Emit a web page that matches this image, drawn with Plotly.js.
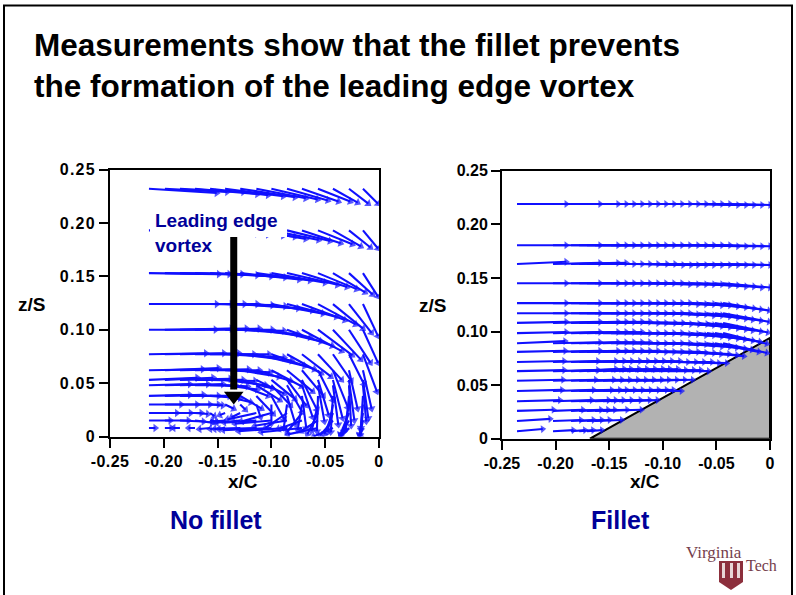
<!DOCTYPE html>
<html><head><meta charset="utf-8">
<script src="https://cdn.plot.ly/plotly-3.0.1.min.js"></script>
<style>
html,body{margin:0;padding:0;background:#fff;overflow:hidden}
.ytick text{letter-spacing:1.2px}
.xtick text{letter-spacing:.4px}
</style></head><body><div id="plot" style="width:796px;height:595px"></div>
<script>
// ---- tick labels
const xTickVals=[-0.25,-0.2,-0.15,-0.1,-0.05,0];
const xTickText=['-0.25','-0.20','-0.15','-0.10','-0.05','0'];
const zTickVals=[0,0.05,0.1,0.15,0.2,0.25];
const zTickText=['0','0.05','0.10','0.15','0.20','0.25'];

// ---- No fillet: vector tails, components in thousandths of x/C and z/S
const leftTailX=[-0.2138,-0.199,-0.185,-0.171,-0.157,-0.143,-0.129,-0.114,-0.100,-0.0855,-0.0716,-0.0567,-0.0428,-0.0279,-0.0149];
const leftZ=[0.232,0.193,0.153,0.124,0.1,0.077,0.062,0.053,0.048,0.038,0.030,0.022,0.015,0.008];
const leftU=[
[63,58,59,58,54,54,51,46,43,38,34,30,23,18,14],
[63,58,59,58,54,54,51,46,44,40,36,32,26,20,14],
[65,60,58,58,57,56,55,50,50,47,42,36,30,22,14],
[63,62,60,58,58,56,54,52,48,46,40,35,28,21,14],
[62,62,62,60,58,55,54,50,46,42,37,32,26,20,14],
[53,55,55,55,55,55,48,45,40,32,27,22,17,14,13],
[50,50,50,50,46,42,36,32,28,24,20,14,14,8,8],
[45,45,47,45,42,38,30,26,22,18,14,10,9,5,5],
[38,40,40,38,35,30,26,22,18,14,10,6,5,2,3],
[38,36,36,32,28,24,20,16,12,8,4,-1,-2,-3,-2],
[30,30,28,22,12,8,5,4,0,-3,-4,-6,-5,-5,-2],
[26,24,20,12,4,-5,-8,-27,-28,-20,-14,-10,-8,-8,-3],
[20,22,22,16,6,-12,-22,-30,-34,-30,-22,-16,-12,-8,-3],
[6,6,-6,-6,-10,-14,-24,-35,-45,-45,-38,-28,-18,-8,-3]];
const leftV=[
[-4,-3,-3,-5,-6,-7,-8,-9,-10,-11,-12,-12,-13,-14,-14],
[-1,-1,-2,-3,-4,-5,-6,-8,-9,-10,-12,-13,-15,-16,-17],
[-1,-1,-1,-2,-3,-4,-6,-7,-9,-11,-13,-15,-18,-20,-22],
[0,0,0,0,-1,-2,-4,-6,-9,-12,-15,-19,-23,-27,-30],
[0,1,1,1,0,-1,-4,-7,-11,-15,-20,-24,-28,-31,-31],
[1,1,1,0,0,-3,-6,-11,-14,-18,-21,-24,-25,-28,-35],
[1,2,1,1,0,-2,-6,-10,-15,-20,-24,-28,-35,-36,-36],
[2,2,1,0,-1,-5,-8,-13,-18,-24,-28,-33,-36,-38,-36],
[1,1,1,0,-1,-4,-10,-14,-19,-25,-30,-34,-37,-38,-34],
[1,1,0,0,-2,-6,-12,-17,-22,-27,-30,-33,-34,-32,-30],
[0,0,0,0,-1,-4,-5,-12,-18,-22,-24,-25,-26,-26,-24],
[0,0,0,-1,-3,-2,-4,-6,-8,-14,-18,-20,-20,-20,-20],
[0,0,-1,-2,-1,-1,-2,-2,-3,-5,-8,-10,-14,-14,-14],
[0,0,0,0,-1,-1,-1,-1,-2,-3,-4,-6,-8,-8,-8]];

// ---- Fillet: vector tails, components in thousandths of x/C and z/S
const rightTailX=[-0.236,-0.2024,-0.1856,-0.178,-0.1707,-0.1632,-0.1558,-0.1483,-0.1409,-0.1334,-0.1259,-0.1185,-0.111,-0.1035,-0.0961,-0.0886,-0.0812,-0.0737,-0.0662,-0.0588,-0.0513,-0.0438];
const rightZ=[0.219,0.1805,0.163,0.145,0.1265,0.117,0.108,0.0985,0.089,0.081,0.0715,0.063,0.054,0.0445,0.035,0.026,0.0165,0.007];
const rightU=[
[46,44,44,44,44,44,44,44,44,44,44,44,44,44,44,44,44,44,44,44,44,44],
[46,44,44,44,44,44,44,44,44,44,44,44,44,44,44,44,44,44,44,44,44,44],
[46,44,44,44,44,44,44,44,45,45,45,45,44,44,44,44,44,44,44,44,44,44],
[46,44,44,44,44,44,44,44,44,44,44,44,44,44,44,44,44,44,44,44,44,44],
[46,44,44,44,44,44,44,44,44,44,44,44,44,44,44,44,44,44,44,44,43,43],
[46,44,44,44,44,44,44,44,44,44,44,44,44,44,44,44,44,44,44,43,43,43],
[46,44,44,44,44,44,44,44,44,45,45,45,45,45,44,44,44,44,44,43,43,42],
[46,44,44,44,44,44,44,44,44,44,44,44,44,44,44,44,44,44,43,43,42,41],
[45,44,44,44,44,44,44,44,44,44,44,44,44,44,44,44,44,43,43,42,41,41],
[45,44,44,44,44,44,44,44,44,44,44,44,44,44,44,43,43,43,42],
[44,42,42,42,42,42,42,42,42,42,42,42,42,42,42,41,41],
[44,42,42,42,41,41,41,41,41,40,40,40,40,39,39],
[43,40,40,40,40,40,40,40,40,39,39,39,39],
[42,38,38,38,37,37,37,37,37,37,36,36],
[40,36,35,34,34,34,35,36,36],
[34,28,28,27,26,30,36],
[31,26,21,21,21,25],
[24,19,13,13,14]];
const rightV=[
[0,0,0,0,0,0,0,0,0,0,0,0,0,0,0,0,0,-1,-1,-1,-1,-1],
[0,0,0,0,0,0,0,0,0,0,0,0,0,0,0,0,0,-1,-1,-1,-1,-1],
[2,1,1,1,0,0,0,0,0,0,-1,-1,-1,-1,-1,-1,-1,-1,-1,-1,-1,-1],
[0,0,0,0,0,0,0,0,0,0,0,-1,-1,-1,-1,-1,-2,-2,-3,-3,-4,-4],
[0,0,0,0,0,0,0,0,0,0,0,0,-1,-1,-1,-2,-2,-3,-4,-5,-6,-7],
[0,0,0,0,0,0,0,0,0,0,0,0,-1,-1,-2,-2,-3,-4,-5,-6,-7,-8],
[1,1,1,1,1,1,1,0,0,0,0,-1,-1,-1,-2,-3,-4,-5,-6,-7,-8,-9],
[1,1,1,1,1,1,0,0,0,0,0,-1,-1,-2,-2,-3,-4,-5,-6,-7,-8,-10],
[2,1,1,1,1,1,1,0,0,0,0,0,-1,-1,-2,-3,-3,-4,-5,-6,-8,-9],
[1,1,1,1,1,1,1,1,0,0,0,0,0,-1,-1,-2,-2,-3,-4],
[1,1,1,1,1,1,1,1,1,1,1,0,0,0,0,-1,-1],
[1,1,2,2,2,2,2,2,2,2,2,1,1,1,0],
[1,1,1,1,1,1,1,1,1,1,1,1,1],
[1,1,1,1,1,1,1,1,1,1,1,0],
[1,1,1,1,1,1,1,1,1],
[1,1,1,1,1,1,1],
[2,1,1,1,1,1],
[2,1,1,1,1]];

// ---- Fillet outline and leading-edge arrow
const filletX=[-0.168,0,0,-0.168];
const filletZ=[0,0.094,0,0];
const wallX=[0.0015,0.0015];
const wallZ=[0,0.094];
const vortexArrowX=[-0.135,-0.135];
const vortexArrowZ=[0.188,0.044];
const vortexTipX=[-0.135];
const vortexTipZ=[0.038];

const BLUE='#1010ff', NAVY='#000099', W=796, H=595;
const px=v=>v/W, py=v=>1-v/H;
const FONT={family:'"Liberation Sans", Arial, sans-serif',weight:700,color:'#000'};

function vectors(tails,zs,us,vs,xa,ya,headSize){
  const x=[],y=[],s=[];
  zs.forEach((z,r)=>{
    us[r].forEach((u,c)=>{
      x.push(tails[c],tails[c]+u/1000,null);
      y.push(z,z+vs[r][c]/1000,null);
      s.push(0,headSize,0);
    });
  });
  return {type:'scatter',mode:'lines+markers',x,y,xaxis:xa,yaxis:ya,
    line:{color:BLUE,width:2.1},
    marker:{color:BLUE,size:s,symbol:'triangle-up',angleref:'previous',line:{width:0}},
    hoverinfo:'skip',showlegend:false,connectgaps:false};
}

const data=[
 {type:'scatter',mode:'lines',x:filletX,y:filletZ,xaxis:'x2',yaxis:'y2',fill:'toself',fillcolor:'#b2b2b2',line:{color:'#000',width:2},hoverinfo:'skip',showlegend:false},
 {type:'scatter',mode:'lines',x:wallX,y:wallZ,xaxis:'x2',yaxis:'y2',cliponaxis:false,line:{color:'#000',width:4},hoverinfo:'skip',showlegend:false},
 vectors(rightTailX,rightZ,rightU,rightV,'x2','y2',7),
 vectors(leftTailX,leftZ,leftU,leftV,'x','y',7.5),
 {type:'scatter',mode:'lines',x:vortexArrowX,y:vortexArrowZ,xaxis:'x',yaxis:'y',line:{color:'#000',width:7},hoverinfo:'skip',showlegend:false},
 {type:'scatter',mode:'markers',x:vortexTipX,y:vortexTipZ,xaxis:'x',yaxis:'y',marker:{color:'#000',size:17,symbol:'triangle-down'},hoverinfo:'skip',showlegend:false}
];

function axis(o){return Object.assign({showgrid:false,zeroline:false,showline:true,mirror:true,linecolor:'#000',linewidth:2,
  ticks:'outside',ticklen:9,tickwidth:2,tickcolor:'#000',tickfont:Object.assign({size:16},FONT),tickmode:'array',fixedrange:true},o);}

const ann=(text,x,y,size,color,extra)=>Object.assign({text,xref:'paper',yref:'paper',x:px(x),y:py(y),showarrow:false,
  xanchor:'center',yanchor:'middle',font:Object.assign({},FONT,{size,color})},extra||{});

const layout={
 width:W,height:H,margin:{l:0,r:0,t:0,b:0},paper_bgcolor:'#fff',plot_bgcolor:'#fff',showlegend:false,hovermode:false,
 title:{text:'Measurements show that the fillet prevents<br>the formation of the leading edge vortex',
   x:px(34),xanchor:'left',xref:'paper',y:py(56),yanchor:'middle',yref:'paper',font:Object.assign({},FONT,{size:31.5})},
 xaxis:axis({domain:[px(110),px(379)],range:[-0.25,0],tickvals:xTickVals,ticktext:xTickText,anchor:'y'}),
 yaxis:axis({domain:[py(436.5),py(169.5)],range:[0,0.25],tickvals:zTickVals,ticktext:zTickText,anchor:'x'}),
 xaxis2:axis({domain:[px(502),px(770)],range:[-0.25,0],tickvals:xTickVals,ticktext:xTickText,anchor:'y2'}),
 yaxis2:axis({domain:[py(438.7),py(170.7)],range:[0,0.25],tickvals:zTickVals,ticktext:zTickText,anchor:'x2'}),
 shapes:[
  {type:'rect',xref:'paper',yref:'paper',x0:px(4),x1:px(792),y0:py(605),y1:py(5.5),line:{color:'#000',width:2},fillcolor:'rgba(0,0,0,0)',layer:'below'},
  {type:'rect',xref:'paper',yref:'paper',x0:px(150),x1:px(287),y0:py(237),y1:py(209),line:{width:0},fillcolor:'#fff',layer:'above'},
  // logo shield
  {type:'path',xref:'paper',yref:'paper',layer:'above',fillcolor:'#8c2f3c',line:{width:0},
   path:`M${px(719)} ${py(561)} L${px(743)} ${py(561)} L${px(743)} ${py(582)} L${px(731)} ${py(590)} L${px(719)} ${py(582)} Z`},
  {type:'rect',xref:'paper',yref:'paper',layer:'above',x0:px(722),x1:px(725),y0:py(578),y1:py(563),fillcolor:'#e8d6d6',line:{width:0}},
  {type:'rect',xref:'paper',yref:'paper',layer:'above',x0:px(730),x1:px(733),y0:py(578),y1:py(563),fillcolor:'#e8d6d6',line:{width:0}},
  {type:'rect',xref:'paper',yref:'paper',layer:'above',x0:px(737),x1:px(740),y0:py(578),y1:py(563),fillcolor:'#e8d6d6',line:{width:0}}
 ],
 annotations:[
  ann('Leading edge<br>vortex',153,233,19,NAVY,{xanchor:'left',align:'left'}),
  ann('z/S',31,304,19,'#000'),
  ann('x/C',243,481,19,'#000'),
  ann('z/S',432,306,19,'#000'),
  ann('x/C',645,481,19,'#000'),
  ann('No fillet',216,520,25,NAVY),
  ann('Fillet',620,520,25,NAVY),
  {text:'Virginia',xref:'paper',yref:'paper',x:px(714),y:py(552),showarrow:false,xanchor:'center',yanchor:'middle',
   font:{family:'"Liberation Serif", serif',size:17,color:'#75404c'}},
  {text:'Tech',xref:'paper',yref:'paper',x:px(761),y:py(565),showarrow:false,xanchor:'center',yanchor:'middle',
   font:{family:'"Liberation Serif", serif',size:16,color:'#75404c'}}
 ]
};
Plotly.newPlot('plot',data,layout,{displayModeBar:false,responsive:false,staticPlot:true});
</script></body></html>
